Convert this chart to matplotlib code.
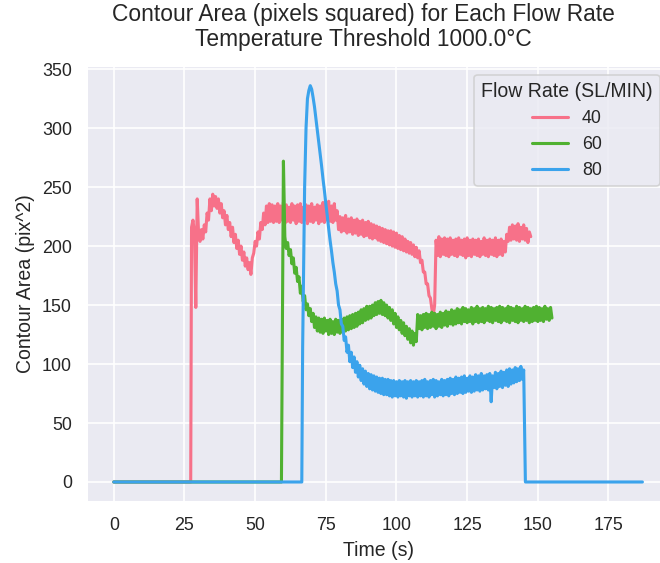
import numpy as np
import matplotlib
matplotlib.use("Agg")
import matplotlib.pyplot as plt
import seaborn as sns

sns.set_theme(style="darkgrid")
plt.rcParams['font.family'] = ['Liberation Sans', 'DejaVu Sans']

# ---- data ----
flow_labels = ["40", "60", "80"]
step = 0.5  # sampling interval (s) of the noisy parts

# 40 SL/MIN : zero until ~27 s, then samples every 0.5 s from 27.5 s
red_head_t = [0, 27.2]
red_head_v = [0, 0]
red_noisy = [
    216, 222, 212, 148, 240, 210, 204, 214, 206, 218, 212, 228, 222, 240, 230, 244, 234, 242, 232, 240,
    228, 236, 224, 230, 218, 226, 214, 220, 208, 216, 203, 210, 198, 205, 193, 200, 188, 195, 183, 190,
    180, 186, 176, 190, 194, 204, 200, 212, 206, 220, 214, 228, 218, 234, 220, 236, 221, 235, 220, 234,
    221, 236, 220, 234, 222, 237, 219, 235, 221, 233, 220, 236, 222, 234, 219, 235, 221, 236, 220, 233,
    222, 235, 219, 234, 221, 236, 220, 233, 222, 235, 219, 234, 221, 237, 220, 233, 222, 238, 221, 234,
    220, 236, 222, 230, 214, 225, 212, 224, 213, 226, 211, 223, 212, 224, 210, 222, 211, 223, 209, 221,
    210, 222, 208, 220, 209, 221, 207, 219, 206, 218, 207, 217, 205, 216, 204, 215, 203, 214, 202, 213,
    201, 213, 200, 212, 199, 211, 198, 209, 197, 208, 196, 206, 195, 204, 194, 203, 193, 201, 191, 199,
    190, 196, 186, 188, 178, 178, 168, 168, 158, 156, 147, 141, 150, 205, 192, 208, 191, 206, 193, 207,
    192, 206, 191, 207, 193, 205, 192, 206, 191, 207, 193, 205, 192, 206, 190, 207, 192, 205, 191, 206,
    193, 205, 192, 206, 191, 204, 193, 207, 192, 205, 191, 206, 193, 205, 192, 207, 191, 205, 193, 206,
    192, 204, 195, 210, 204, 216, 205, 218, 206, 217, 205, 219, 204, 216, 206, 218, 205, 215, 203, 212,
    208,
]
red_noisy_t0 = 27.5

# 60 SL/MIN : zero until ~59 s, spike at 60 s, then samples every 0.5 s from 60.5 s
green_head_t = [0, 59.3, 60.0]
green_head_v = [0, 0, 272]
green_noisy = [
    208, 198, 203, 192, 197, 185, 190, 177, 182, 170, 174, 160, 166, 153, 158, 146, 151, 141, 147, 136,
    143, 131, 140, 128, 139, 127, 138, 126, 139, 128, 137, 125, 138, 126, 136, 125, 138, 127, 137, 126,
    138, 127, 139, 128, 140, 129, 141, 130, 142, 131, 143, 132, 144, 134, 146, 135, 147, 137, 149, 138,
    149, 139, 150, 141, 152, 142, 153, 143, 154, 142, 152, 141, 150, 139, 148, 137, 146, 134, 143, 131,
    140, 129, 137, 126, 135, 124, 132, 121, 130, 118, 128, 116, 126, 119, 142, 130, 141, 129, 142, 131,
    143, 130, 142, 131, 144, 132, 143, 130, 142, 132, 144, 131, 143, 133, 145, 132, 144, 134, 146, 133,
    145, 134, 147, 135, 146, 134, 148, 136, 147, 135, 146, 136, 148, 134, 147, 136, 149, 135, 147, 136,
    148, 135, 147, 137, 149, 136, 148, 135, 147, 137, 148, 136, 149, 135, 148, 137, 147, 136, 149, 135,
    148, 137, 147, 136, 149, 135, 148, 137, 147, 136, 149, 137, 148, 135, 147, 136, 148, 137, 149, 136,
    148, 137, 147, 136, 149, 138, 147, 137, 148, 139,
]
green_noisy_t0 = 60.5

# 80 SL/MIN : zero until ~66.5 s, peak, decay, drop to zero at ~145.6 s
blue_head_t = [0, 66.5, 66.8]
blue_head_v = [0, 0, 114]
blue_noisy = [
    250, 300, 325, 332, 336, 333, 326, 318, 308, 298, 288, 278, 268, 257, 247, 236, 226, 215, 205, 196,
    186, 178, 168, 162, 150, 146, 134, 132, 120, 123, 110, 116, 102, 110, 97, 106, 93, 102, 89, 99,
    86, 96, 83, 94, 81, 92, 79, 91, 78, 90, 77, 89, 76, 88, 75, 88, 74, 87, 74, 87,
    73, 86, 72, 86, 73, 85, 72, 86, 73, 85, 72, 86, 71, 85, 73, 86, 72, 85, 73, 86,
    72, 85, 73, 86, 72, 87, 73, 85, 72, 86, 74, 87, 72, 86, 73, 85, 74, 87, 73, 86,
    74, 87, 73, 88, 75, 87, 74, 89, 75, 88, 76, 89, 75, 90, 76, 88, 77, 90, 76, 89,
    77, 91, 78, 90, 77, 92, 78, 90, 79, 91, 78, 92, 68, 90, 80, 93, 79, 92, 81, 94,
    80, 93, 82, 95, 81, 96, 83, 95, 84, 97, 85, 96, 86, 98, 87, 95,
]
blue_noisy_t0 = 67.5
blue_tail_t = [145.6, 187]
blue_tail_v = [0, 0]


def sample_times(t0, n):
    return [t0 + step * i for i in range(n)]


red_time = red_head_t + sample_times(red_noisy_t0, len(red_noisy))
red_vals = red_head_v + red_noisy
green_time = green_head_t + sample_times(green_noisy_t0, len(green_noisy))
green_vals = green_head_v + green_noisy
blue_time = blue_head_t + sample_times(blue_noisy_t0, len(blue_noisy)) + blue_tail_t
blue_vals = blue_head_v + blue_noisy + blue_tail_v

series = [(red_time, red_vals), (green_time, green_vals), (blue_time, blue_vals)]

# ---- figure ----
dpi = 117
fig = plt.figure(figsize=(660 / dpi, 563 / dpi), dpi=dpi)
ax = fig.add_axes([0.1324, 0.1087, 0.881, 0.7743])

colors = sns.color_palette("husl", 3)
for (t, v), lab, c in zip(series, flow_labels, colors):
    ax.plot(t, v, color=c, lw=1.9, label=lab)

ax.set_xticks([0, 25, 50, 75, 100, 125, 150, 175])
ax.set_yticks([0, 50, 100, 150, 200, 250, 300, 350])
ax.tick_params(labelsize=11)
ax.set_xlabel("Time (s)", fontsize=12)
ax.set_ylabel("Contour Area (pix^2)", fontsize=12)

fig.suptitle("Contour Area (pixels squared) for Each Flow Rate\nTemperature Threshold 1000.0°C",
             x=0.55, y=0.995, fontsize=14, va="top", linespacing=1.1)

leg = ax.legend(title="Flow Rate (SL/MIN)", loc="upper right", fontsize=11,
                title_fontsize=12)

fig.savefig("out.png", dpi=dpi)
